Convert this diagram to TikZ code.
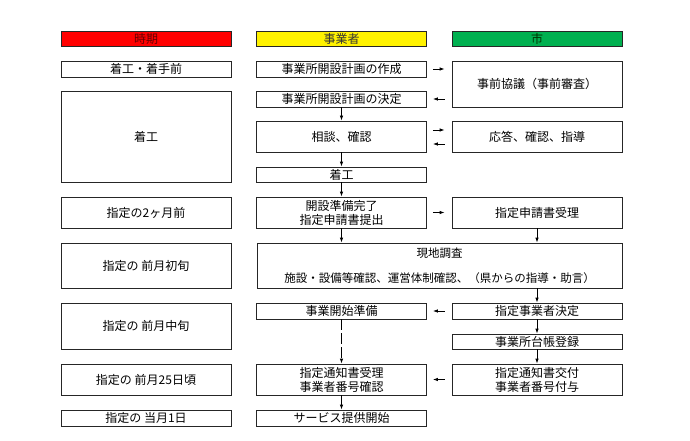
\documentclass[tikz,border=0pt]{standalone}
\usepackage{fontspec}
\setmainfont{Noto Sans CJK JP}
\usetikzlibrary{arrows.meta}
\definecolor{xlgreen}{RGB}{0,176,80}

\begin{document}
\begin{tikzpicture}[x=1pt,y=-1pt,
  box/.style={draw=black!85,line width=0.8pt,minimum width=170pt,inner sep=0pt,align=center,font=\fontsize{12}{14}\selectfont},
  head/.style={box,minimum height=15pt},
  arr/.style={-{Latex[length=5pt,width=3.5pt]},line width=0.8pt}]
\useasboundingbox (0,0) rectangle (690,441);

\node[head,fill=red,text=red!40!black] (h1) at (146,38.5) {時期};
\node[head,fill=yellow,text=black!80] (h2) at (341.5,38.5) {事業者};
\node[head,fill=xlgreen,text=green!20!black] (h3) at (537,38.5) {市};

\node[box,minimum height=16pt] (t1) at (146,69) {着工・着手前};
\node[box,minimum height=91pt] (t2) at (146,136.5) {着工};
\node[box,minimum height=31pt] (t3) at (146,212.5) {指定の2ヶ月前};
\node[box,minimum height=45pt] (t4) at (146,265.5) {指定の 前月初旬};
\node[box,minimum height=46pt] (t5) at (146,326) {指定の 前月中旬};
\node[box,minimum height=31pt] (t6) at (146,379.5) {指定の 前月25日頃};
\node[box,minimum height=16pt] (t7) at (146,418) {指定の 当月1日};

\node[box,minimum height=16pt] (j1) at (341.5,69) {事業所開設計画の作成};
\node[box,minimum height=16pt] (j2) at (341.5,99) {事業所開設計画の決定};
\node[box,minimum height=31pt] (j3) at (341.5,136.5) {相談、確認};
\node[box,minimum height=15pt] (j4) at (341.5,174.5) {着工};
\node[box,minimum height=31pt] (j5) at (341.5,212.5) {開設準備完了\\指定申請書提出};
\node[box,minimum height=16pt] (j6) at (341.5,311) {事業開始準備};
\node[box,minimum height=31pt] (j7) at (341.5,379.5) {指定通知書受理\\事業者番号確認};
\node[box,minimum height=16pt] (j8) at (341.5,418) {サービス提供開始};

\node[box,minimum height=46pt] (s1) at (537,84) {事前協議（事前審査）};
\node[box,minimum height=31pt] (s2) at (537,136.5) {応答、確認、指導};
\node[box,minimum height=31pt] (s3) at (537,212.5) {指定申請書受理};
\node[box,minimum height=16pt] (s4) at (537,311) {指定事業者決定};
\node[box,minimum height=15pt] (s5) at (537,341.5) {事業所台帳登録};
\node[box,minimum height=31pt] (s6) at (537,379.5) {指定通知書交付\\事業者番号付与};

\node[box,minimum width=365pt,minimum height=45pt,font=\fontsize{11.5}{14}\selectfont] (gen) at (439.5,265.5) {現地調査\\[11pt]施設・設備等確認、運営体制確認、（県からの指導・助言）};

\draw[arr,shorten <=6pt,shorten >=7pt] (j1.east) -- (j1.east -| s1.west);
\draw[arr,shorten <=7pt,shorten >=6pt] (j2.east -| s1.west) -- (j2.east);
\draw[arr,shorten <=6pt,shorten >=7pt] ([yshift=6.5pt]j3.east) -- ([yshift=6.5pt]s2.west);
\draw[arr,shorten <=7pt,shorten >=6pt] ([yshift=-7.5pt]s2.west) -- ([yshift=-7.5pt]j3.east);
\draw[arr,shorten <=6pt,shorten >=7pt] (j5.east) -- (s3.west);
\draw[arr,shorten <=7pt,shorten >=6pt] (s4.west) -- (j6.east);
\draw[arr,shorten <=7pt,shorten >=6pt] (s6.west) -- (j7.east);

\draw[arr] (j2) -- (j3);
\draw[arr] (j3) -- (j4);
\draw[arr] (j4) -- (j5);
\draw[arr] (j5.south) -- (j5.south |- gen.north);
\draw[arr] (s3.south) -- (s3.south |- gen.north);
\draw[arr] (s4.north |- gen.south) -- (s4.north);
\draw[arr] (s4) -- (s5);
\draw[arr] (s5) -- (s6);
\draw[arr,dash pattern=on 11pt off 3pt] (j6) -- (j7);
\draw[arr] (j7) -- (j8);
\end{tikzpicture}
\end{document}
